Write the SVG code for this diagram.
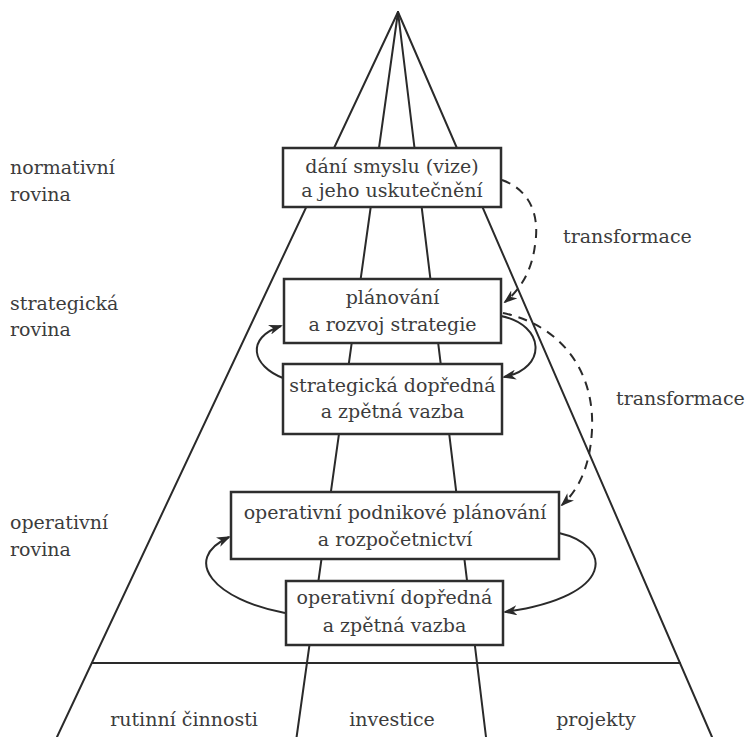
<svg xmlns="http://www.w3.org/2000/svg" width="747" height="737" viewBox="0 0 747 737">
  <style>
    .frame { stroke: #2a2a2a; stroke-width: 2; fill: none; stroke-linecap: round; }
    .box rect { fill: #ffffff; stroke: #2e2e2e; stroke-width: 2.5; }
    text { font-family: "DejaVu Serif", "Liberation Serif", serif; font-size: 19px; fill: #3c3c3c; }
    .c { text-anchor: middle; }
    .loop { stroke: #2a2a2a; stroke-width: 2; fill: none; marker-end: url(#barb); }
    .dash { stroke: #2a2a2a; stroke-width: 2; fill: none; stroke-dasharray: 9 7; marker-end: url(#barb); }
  </style>
  <defs>
    <marker id="barb" viewBox="0 0 14 10" refX="12" refY="5" markerWidth="14" markerHeight="10" markerUnits="userSpaceOnUse" orient="auto">
      <path d="M0,0 L14,5 L0,10 L4,5 z" fill="#2a2a2a"/>
    </marker>
  </defs>
  <rect width="747" height="737" fill="#ffffff"/>

  <!-- pyramid frame -->
  <g id="pyramid">
    <line class="frame" x1="398" y1="12" x2="57" y2="737"/>
    <line class="frame" x1="398" y1="12" x2="296.6" y2="737"/>
    <line class="frame" x1="398" y1="12" x2="486" y2="737"/>
    <line class="frame" x1="398" y1="12" x2="712" y2="737"/>
    <line class="frame" x1="92" y1="663" x2="680" y2="663"/>
  </g>

  <!-- level labels -->
  <g id="levels">
    <text x="10" y="174">normativní</text>
    <text x="10" y="201">rovina</text>
    <text x="10" y="310">strategická</text>
    <text x="10" y="336">rovina</text>
    <text x="10" y="529">operativní</text>
    <text x="10" y="556">rovina</text>
  </g>

  <!-- connectors -->
  <g id="connectors">
    <path class="dash" d="M502,180 C530,190 540,215 535,245 C532,270 521,289 505,302"/>
    <path class="dash" d="M503,313 C560,325 595,370 592,430 C590,468 578,490 562,505"/>
    <path class="loop" d="M501,316 C545,325 548,368 504,377"/>
    <path class="loop" d="M283,378 C252,366 245,338 281,326"/>
    <path class="loop" d="M559,533 C612,545 618,596 505,612"/>
    <path class="loop" d="M285,613 C215,600 180,560 229,537"/>
  </g>

  <g id="node-vize" class="box">
    <rect x="283" y="148" width="218" height="59"/>
    <text class="c" x="392" y="173">dání smyslu (vize)</text>
    <text class="c" x="392" y="197">a jeho uskutečnění</text>
  </g>

  <g id="node-planovani" class="box">
    <rect x="284" y="279" width="217" height="64"/>
    <text class="c" x="392.5" y="304">plánování</text>
    <text class="c" x="392.5" y="331">a rozvoj strategie</text>
  </g>

  <g id="node-strat-vazba" class="box">
    <rect x="283" y="364" width="219" height="70"/>
    <text class="c" x="392.5" y="392">strategická dopředná</text>
    <text class="c" x="392.5" y="418">a zpětná vazba</text>
  </g>

  <g id="node-oper-planovani" class="box">
    <rect x="231" y="492" width="328" height="67"/>
    <text class="c" x="395" y="519">operativní podnikové plánování</text>
    <text class="c" x="395" y="546">a rozpočetnictví</text>
  </g>

  <g id="node-oper-vazba" class="box">
    <rect x="286" y="581" width="217" height="64"/>
    <text class="c" x="394.5" y="604">operativní dopředná</text>
    <text class="c" x="394.5" y="632">a zpětná vazba</text>
  </g>

  <!-- transformation labels -->
  <g id="labels">
    <text x="563" y="243">transformace</text>
    <text x="616" y="405">transformace</text>
  </g>

  <!-- base areas -->
  <g id="base">
    <text class="c" x="184" y="726">rutinní činnosti</text>
    <text class="c" x="392" y="726">investice</text>
    <text class="c" x="596" y="726">projekty</text>
  </g>
</svg>
